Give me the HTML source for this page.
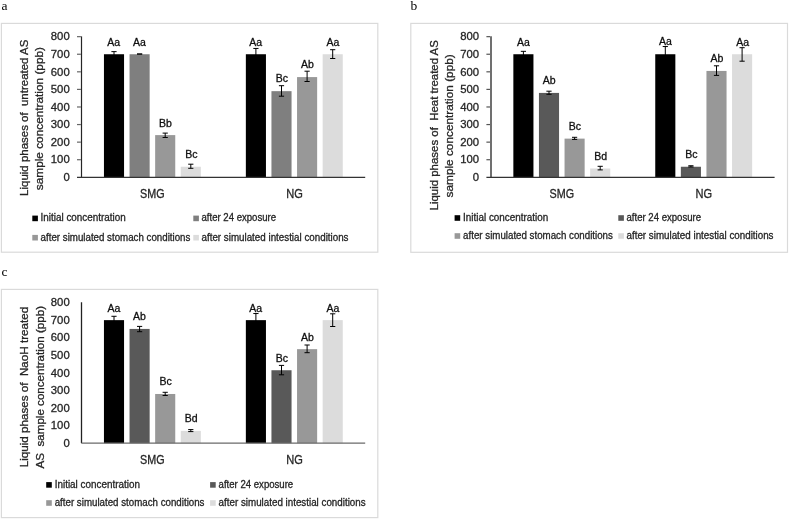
<!DOCTYPE html>
<html><head><meta charset="utf-8"><style>
html,body{margin:0;padding:0;background:#fff;width:789px;height:520px;overflow:hidden}
svg{display:block;will-change:transform}
text{stroke:#262626;stroke-width:0.3px}
</style></head><body>
<svg width="789" height="520" viewBox="0 0 789 520" font-family="'Liberation Sans', sans-serif">
<rect width="789" height="520" fill="#fff"/>
<text x="1.5" y="10" font-family="'Liberation Serif', serif" font-size="13.5" fill="#000" style="stroke:none">a</text>
<text x="410.6" y="10" font-family="'Liberation Serif', serif" font-size="13.5" fill="#000" style="stroke:none">b</text>
<text x="1.5" y="276" font-family="'Liberation Serif', serif" font-size="13.5" fill="#000" style="stroke:none">c</text>
<rect x="1.4" y="23.4" width="376.4" height="228.8" fill="#fff" stroke="#dadada" stroke-width="1.2"/>
<text x="69.70" y="181.00" font-size="11.3" text-anchor="end" fill="#262626">0</text>
<text x="69.70" y="163.42" font-size="11.3" text-anchor="end" fill="#262626">100</text>
<text x="69.70" y="145.84" font-size="11.3" text-anchor="end" fill="#262626">200</text>
<text x="69.70" y="128.26" font-size="11.3" text-anchor="end" fill="#262626">300</text>
<text x="69.70" y="110.68" font-size="11.3" text-anchor="end" fill="#262626">400</text>
<text x="69.70" y="93.10" font-size="11.3" text-anchor="end" fill="#262626">500</text>
<text x="69.70" y="75.52" font-size="11.3" text-anchor="end" fill="#262626">600</text>
<text x="69.70" y="57.94" font-size="11.3" text-anchor="end" fill="#262626">700</text>
<text x="69.70" y="40.36" font-size="11.3" text-anchor="end" fill="#262626">800</text>
<rect x="103.95" y="54.24" width="20.1" height="123.06" fill="#000000"/>
<rect x="129.55" y="54.24" width="20.1" height="123.06" fill="#7f7f7f"/>
<rect x="155.15" y="135.11" width="20.1" height="42.19" fill="#989898"/>
<rect x="180.75" y="166.75" width="20.1" height="10.55" fill="#dcdcdc"/>
<rect x="245.85" y="54.24" width="20.1" height="123.06" fill="#000000"/>
<rect x="271.45" y="91.16" width="20.1" height="86.14" fill="#7f7f7f"/>
<rect x="297.05" y="77.09" width="20.1" height="100.21" fill="#989898"/>
<rect x="322.65" y="54.24" width="20.1" height="123.06" fill="#dcdcdc"/>
<path d="M114.00 51.64V56.84M111.40 51.64H116.60M111.40 56.84H116.60" stroke="#000" stroke-width="1" fill="none"/>
<path d="M139.60 54.03V54.05M137.00 54.03H142.20M137.00 54.05H142.20" stroke="#000" stroke-width="1" fill="none"/>
<path d="M165.20 133.10V137.50M162.60 133.10H167.80M162.60 137.50H167.80" stroke="#000" stroke-width="1" fill="none"/>
<path d="M190.80 164.20V168.30M188.20 164.20H193.40M188.20 168.30H193.40" stroke="#000" stroke-width="1" fill="none"/>
<path d="M255.90 48.44V60.04M253.30 48.44H258.50M253.30 60.04H258.50" stroke="#000" stroke-width="1" fill="none"/>
<path d="M281.50 85.70V96.20M278.90 85.70H284.10M278.90 96.20H284.10" stroke="#000" stroke-width="1" fill="none"/>
<path d="M307.10 71.20V81.50M304.50 71.20H309.70M304.50 81.50H309.70" stroke="#000" stroke-width="1" fill="none"/>
<path d="M332.70 49.70V58.50M330.10 49.70H335.30M330.10 58.50H335.30" stroke="#000" stroke-width="1" fill="none"/>
<line x1="81.5" y1="36.36" x2="81.5" y2="177.30" stroke="#262626" stroke-width="1.2"/>
<line x1="77" y1="159.72" x2="80.9" y2="159.72" stroke="#666" stroke-width="1.2"/>
<line x1="77" y1="142.14" x2="80.9" y2="142.14" stroke="#666" stroke-width="1.2"/>
<line x1="77" y1="124.56" x2="80.9" y2="124.56" stroke="#666" stroke-width="1.2"/>
<line x1="77" y1="106.98" x2="80.9" y2="106.98" stroke="#666" stroke-width="1.2"/>
<line x1="77" y1="89.40" x2="80.9" y2="89.40" stroke="#666" stroke-width="1.2"/>
<line x1="77" y1="71.82" x2="80.9" y2="71.82" stroke="#666" stroke-width="1.2"/>
<line x1="77" y1="54.24" x2="80.9" y2="54.24" stroke="#666" stroke-width="1.2"/>
<line x1="77" y1="36.66" x2="80.9" y2="36.66" stroke="#666" stroke-width="1.2"/>
<line x1="77" y1="177.30" x2="365.2" y2="177.30" stroke="#333" stroke-width="1.2"/>
<text x="113.65" y="45.60" font-size="10.5" text-anchor="middle" fill="#000">Aa</text>
<text x="139.40" y="45.60" font-size="10.5" text-anchor="middle" fill="#000">Aa</text>
<text x="165.45" y="126.70" font-size="10.5" text-anchor="middle" fill="#000">Bb</text>
<text x="191.40" y="157.90" font-size="10.5" text-anchor="middle" fill="#000">Bc</text>
<text x="255.55" y="45.60" font-size="10.5" text-anchor="middle" fill="#000">Aa</text>
<text x="281.90" y="82.30" font-size="10.5" text-anchor="middle" fill="#000">Bc</text>
<text x="307.30" y="67.70" font-size="10.5" text-anchor="middle" fill="#000">Ab</text>
<text x="332.90" y="45.80" font-size="10.5" text-anchor="middle" fill="#000">Aa</text>
<text x="152.35" y="197.90" font-size="12" text-anchor="middle" fill="#262626" textLength="24.5" lengthAdjust="spacingAndGlyphs">SMG</text>
<text x="294.50" y="197.90" font-size="12" text-anchor="middle" fill="#262626" textLength="16.6" lengthAdjust="spacingAndGlyphs">NG</text>
<text transform="translate(27.6 117.8) rotate(-90)" font-size="11.5" text-anchor="middle" fill="#262626" xml:space="preserve" textLength="156.2" lengthAdjust="spacingAndGlyphs">Liquid phases of  untreated AS</text>
<text transform="translate(43 118.6) rotate(-90)" font-size="11.5" text-anchor="middle" fill="#262626" xml:space="preserve" textLength="143.2" lengthAdjust="spacingAndGlyphs">sample concentration (ppb)</text>
<rect x="32.30" y="215.60" width="5.6" height="5.6" fill="#000000"/>
<text x="40.60" y="221.20" font-size="10" fill="#262626" textLength="85.2" lengthAdjust="spacingAndGlyphs">Initial concentration</text>
<rect x="193.30" y="215.60" width="5.6" height="5.6" fill="#7f7f7f"/>
<text x="201.50" y="221.20" font-size="10" fill="#262626" textLength="74.6" lengthAdjust="spacingAndGlyphs">after 24 exposure</text>
<rect x="32.30" y="234.90" width="5.6" height="5.6" fill="#989898"/>
<text x="40.60" y="240.50" font-size="10" fill="#262626" textLength="149.8" lengthAdjust="spacingAndGlyphs">after simulated stomach conditions</text>
<rect x="193.30" y="234.90" width="5.6" height="5.6" fill="#dcdcdc"/>
<text x="201.50" y="240.50" font-size="10" fill="#262626" textLength="147" lengthAdjust="spacingAndGlyphs">after simulated intestial conditions</text>
<rect x="410.8" y="23.4" width="376.7" height="228.9" fill="#fff" stroke="#dadada" stroke-width="1.2"/>
<text x="479.10" y="181.00" font-size="11.3" text-anchor="end" fill="#262626">0</text>
<text x="479.10" y="163.42" font-size="11.3" text-anchor="end" fill="#262626">100</text>
<text x="479.10" y="145.84" font-size="11.3" text-anchor="end" fill="#262626">200</text>
<text x="479.10" y="128.26" font-size="11.3" text-anchor="end" fill="#262626">300</text>
<text x="479.10" y="110.68" font-size="11.3" text-anchor="end" fill="#262626">400</text>
<text x="479.10" y="93.10" font-size="11.3" text-anchor="end" fill="#262626">500</text>
<text x="479.10" y="75.52" font-size="11.3" text-anchor="end" fill="#262626">600</text>
<text x="479.10" y="57.94" font-size="11.3" text-anchor="end" fill="#262626">700</text>
<text x="479.10" y="40.36" font-size="11.3" text-anchor="end" fill="#262626">800</text>
<rect x="513.35" y="54.24" width="20.1" height="123.06" fill="#000000"/>
<rect x="538.95" y="92.92" width="20.1" height="84.38" fill="#595959"/>
<rect x="564.55" y="138.62" width="20.1" height="38.68" fill="#989898"/>
<rect x="590.15" y="168.51" width="20.1" height="8.79" fill="#dcdcdc"/>
<rect x="655.25" y="54.24" width="20.1" height="123.06" fill="#000000"/>
<rect x="680.85" y="166.75" width="20.1" height="10.55" fill="#595959"/>
<rect x="706.45" y="70.94" width="20.1" height="106.36" fill="#989898"/>
<rect x="732.05" y="54.24" width="20.1" height="123.06" fill="#dcdcdc"/>
<path d="M523.40 51.34V57.14M520.80 51.34H526.00M520.80 57.14H526.00" stroke="#000" stroke-width="1" fill="none"/>
<path d="M549.00 91.20V94.30M546.40 91.20H551.60M546.40 94.30H551.60" stroke="#000" stroke-width="1" fill="none"/>
<path d="M574.60 137.30V139.40M572.00 137.30H577.20M572.00 139.40H577.20" stroke="#000" stroke-width="1" fill="none"/>
<path d="M600.20 166.30V169.90M597.60 166.30H602.80M597.60 169.90H602.80" stroke="#000" stroke-width="1" fill="none"/>
<path d="M665.30 46.54V61.94M662.70 46.54H667.90M662.70 61.94H667.90" stroke="#000" stroke-width="1" fill="none"/>
<path d="M690.90 165.75V166.95M688.30 165.75H693.50M688.30 166.95H693.50" stroke="#000" stroke-width="1" fill="none"/>
<path d="M716.50 65.80V75.40M713.90 65.80H719.10M713.90 75.40H719.10" stroke="#000" stroke-width="1" fill="none"/>
<path d="M742.10 47.70V61.20M739.50 47.70H744.70M739.50 61.20H744.70" stroke="#000" stroke-width="1" fill="none"/>
<line x1="491.0" y1="36.36" x2="491.0" y2="177.30" stroke="#707070" stroke-width="2"/>
<line x1="486.4" y1="159.72" x2="490.0" y2="159.72" stroke="#555" stroke-width="1.2"/>
<line x1="486.4" y1="142.14" x2="490.0" y2="142.14" stroke="#555" stroke-width="1.2"/>
<line x1="486.4" y1="124.56" x2="490.0" y2="124.56" stroke="#555" stroke-width="1.2"/>
<line x1="486.4" y1="106.98" x2="490.0" y2="106.98" stroke="#555" stroke-width="1.2"/>
<line x1="486.4" y1="89.40" x2="490.0" y2="89.40" stroke="#555" stroke-width="1.2"/>
<line x1="486.4" y1="71.82" x2="490.0" y2="71.82" stroke="#555" stroke-width="1.2"/>
<line x1="486.4" y1="54.24" x2="490.0" y2="54.24" stroke="#555" stroke-width="1.2"/>
<line x1="486.4" y1="36.66" x2="490.0" y2="36.66" stroke="#555" stroke-width="1.2"/>
<line x1="486.4" y1="177.30" x2="774.5999999999999" y2="177.30" stroke="#333" stroke-width="1.2"/>
<text x="523.30" y="45.60" font-size="10.5" text-anchor="middle" fill="#000">Aa</text>
<text x="549.15" y="84.20" font-size="10.5" text-anchor="middle" fill="#000">Ab</text>
<text x="574.95" y="130.30" font-size="10.5" text-anchor="middle" fill="#000">Bc</text>
<text x="600.65" y="159.90" font-size="10.5" text-anchor="middle" fill="#000">Bd</text>
<text x="665.30" y="44.80" font-size="10.5" text-anchor="middle" fill="#000">Aa</text>
<text x="691.35" y="157.80" font-size="10.5" text-anchor="middle" fill="#000">Bc</text>
<text x="716.80" y="61.80" font-size="10.5" text-anchor="middle" fill="#000">Ab</text>
<text x="742.65" y="45.80" font-size="10.5" text-anchor="middle" fill="#000">Aa</text>
<text x="561.75" y="197.90" font-size="12" text-anchor="middle" fill="#262626" textLength="24.5" lengthAdjust="spacingAndGlyphs">SMG</text>
<text x="703.90" y="197.90" font-size="12" text-anchor="middle" fill="#262626" textLength="16.6" lengthAdjust="spacingAndGlyphs">NG</text>
<text transform="translate(437.8 125.3) rotate(-90)" font-size="11.5" text-anchor="middle" fill="#262626" xml:space="preserve" textLength="170.3" lengthAdjust="spacingAndGlyphs">Liquid phases of  Heat treated AS</text>
<text transform="translate(453 125.85) rotate(-90)" font-size="11.5" text-anchor="middle" fill="#262626" xml:space="preserve" textLength="143.2" lengthAdjust="spacingAndGlyphs">sample concentration (ppb)</text>
<rect x="454.60" y="215.20" width="5.6" height="5.6" fill="#000000"/>
<text x="463.10" y="220.80" font-size="10" fill="#262626" textLength="85.2" lengthAdjust="spacingAndGlyphs">Initial concentration</text>
<rect x="618.30" y="215.20" width="5.6" height="5.6" fill="#595959"/>
<text x="626.50" y="220.80" font-size="10" fill="#262626" textLength="74.6" lengthAdjust="spacingAndGlyphs">after 24 exposure</text>
<rect x="454.60" y="233.20" width="5.6" height="5.6" fill="#989898"/>
<text x="463.10" y="238.80" font-size="10" fill="#262626" textLength="149.8" lengthAdjust="spacingAndGlyphs">after simulated stomach conditions</text>
<rect x="618.30" y="233.20" width="5.6" height="5.6" fill="#dcdcdc"/>
<text x="626.50" y="238.80" font-size="10" fill="#262626" textLength="147" lengthAdjust="spacingAndGlyphs">after simulated intestial conditions</text>
<rect x="1.4" y="289.4" width="376.4" height="228.2" fill="#fff" stroke="#dadada" stroke-width="1.2"/>
<text x="69.70" y="446.90" font-size="11.3" text-anchor="end" fill="#262626">0</text>
<text x="69.70" y="429.32" font-size="11.3" text-anchor="end" fill="#262626">100</text>
<text x="69.70" y="411.74" font-size="11.3" text-anchor="end" fill="#262626">200</text>
<text x="69.70" y="394.16" font-size="11.3" text-anchor="end" fill="#262626">300</text>
<text x="69.70" y="376.58" font-size="11.3" text-anchor="end" fill="#262626">400</text>
<text x="69.70" y="359.00" font-size="11.3" text-anchor="end" fill="#262626">500</text>
<text x="69.70" y="341.42" font-size="11.3" text-anchor="end" fill="#262626">600</text>
<text x="69.70" y="323.84" font-size="11.3" text-anchor="end" fill="#262626">700</text>
<text x="69.70" y="306.26" font-size="11.3" text-anchor="end" fill="#262626">800</text>
<rect x="103.95" y="320.14" width="20.1" height="123.06" fill="#000000"/>
<rect x="129.55" y="328.93" width="20.1" height="114.27" fill="#595959"/>
<rect x="155.15" y="393.98" width="20.1" height="49.22" fill="#989898"/>
<rect x="180.75" y="430.89" width="20.1" height="12.31" fill="#dcdcdc"/>
<rect x="245.85" y="320.14" width="20.1" height="123.06" fill="#000000"/>
<rect x="271.45" y="370.24" width="20.1" height="72.96" fill="#595959"/>
<rect x="297.05" y="349.15" width="20.1" height="94.05" fill="#989898"/>
<rect x="322.65" y="320.14" width="20.1" height="123.06" fill="#dcdcdc"/>
<path d="M114.00 316.29V323.99M111.40 316.29H116.60M111.40 323.99H116.60" stroke="#000" stroke-width="1" fill="none"/>
<path d="M139.60 326.40V331.70M137.00 326.40H142.20M137.00 331.70H142.20" stroke="#000" stroke-width="1" fill="none"/>
<path d="M165.20 392.30V395.50M162.60 392.30H167.80M162.60 395.50H167.80" stroke="#000" stroke-width="1" fill="none"/>
<path d="M190.80 429.60V431.60M188.20 429.60H193.40M188.20 431.60H193.40" stroke="#000" stroke-width="1" fill="none"/>
<path d="M255.90 313.54V326.74M253.30 313.54H258.50M253.30 326.74H258.50" stroke="#000" stroke-width="1" fill="none"/>
<path d="M281.50 365.40V374.80M278.90 365.40H284.10M278.90 374.80H284.10" stroke="#000" stroke-width="1" fill="none"/>
<path d="M307.10 345.00V352.70M304.50 345.00H309.70M304.50 352.70H309.70" stroke="#000" stroke-width="1" fill="none"/>
<path d="M332.70 313.80V326.50M330.10 313.80H335.30M330.10 326.50H335.30" stroke="#000" stroke-width="1" fill="none"/>
<line x1="81.5" y1="302.26" x2="81.5" y2="443.20" stroke="#222" stroke-width="1.3"/>
<line x1="81.5" y1="443.20" x2="365.2" y2="443.20" stroke="#6a6a6a" stroke-width="1.3"/>
<text x="113.85" y="311.70" font-size="10.5" text-anchor="middle" fill="#000">Aa</text>
<text x="139.45" y="320.40" font-size="10.5" text-anchor="middle" fill="#000">Ab</text>
<text x="165.60" y="385.40" font-size="10.5" text-anchor="middle" fill="#000">Bc</text>
<text x="191.15" y="421.80" font-size="10.5" text-anchor="middle" fill="#000">Bd</text>
<text x="255.70" y="311.70" font-size="10.5" text-anchor="middle" fill="#000">Aa</text>
<text x="281.90" y="361.50" font-size="10.5" text-anchor="middle" fill="#000">Bc</text>
<text x="307.30" y="340.70" font-size="10.5" text-anchor="middle" fill="#000">Ab</text>
<text x="332.90" y="311.60" font-size="10.5" text-anchor="middle" fill="#000">Aa</text>
<text x="152.35" y="463.80" font-size="12" text-anchor="middle" fill="#262626" textLength="24.5" lengthAdjust="spacingAndGlyphs">SMG</text>
<text x="294.50" y="463.80" font-size="12" text-anchor="middle" fill="#262626" textLength="16.6" lengthAdjust="spacingAndGlyphs">NG</text>
<text transform="translate(28.3 387.05) rotate(-90)" font-size="11.5" text-anchor="middle" fill="#262626" xml:space="preserve" textLength="160.5" lengthAdjust="spacingAndGlyphs">Liquid phases of  NaoH treated</text>
<text transform="translate(43.6 387.2) rotate(-90)" font-size="11.5" text-anchor="middle" fill="#262626" xml:space="preserve" textLength="162.5" lengthAdjust="spacingAndGlyphs">AS  sample concentration (ppb)</text>
<rect x="46.20" y="482.10" width="5.6" height="5.6" fill="#000000"/>
<text x="54.70" y="487.70" font-size="10" fill="#262626" textLength="85.2" lengthAdjust="spacingAndGlyphs">Initial concentration</text>
<rect x="210.10" y="482.10" width="5.6" height="5.6" fill="#595959"/>
<text x="218.60" y="487.70" font-size="10" fill="#262626" textLength="74.6" lengthAdjust="spacingAndGlyphs">after 24 exposure</text>
<rect x="46.20" y="500.20" width="5.6" height="5.6" fill="#989898"/>
<text x="54.70" y="505.80" font-size="10" fill="#262626" textLength="149.8" lengthAdjust="spacingAndGlyphs">after simulated stomach conditions</text>
<rect x="210.10" y="500.20" width="5.6" height="5.6" fill="#dcdcdc"/>
<text x="218.60" y="505.80" font-size="10" fill="#262626" textLength="147" lengthAdjust="spacingAndGlyphs">after simulated intestial conditions</text>
</svg>
</body></html>
